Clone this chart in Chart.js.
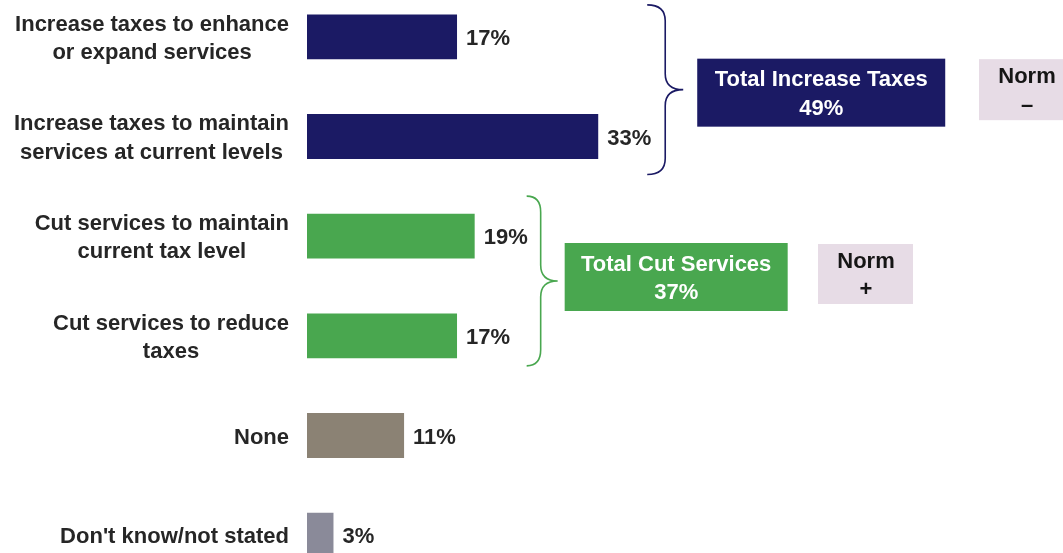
<!DOCTYPE html>
<html>
<head>
<meta charset="utf-8">
<script src="https://cdn.jsdelivr.net/npm/chart.js@4.4.1/dist/chart.umd.min.js"></script>
<style>
  html, body { margin: 0; padding: 0; background: #fff; overflow: hidden; }
  #wrap { position: absolute; left: 0; top: -13px; width: 1063px; height: 598px; }
</style>
</head>
<body>
<div id="wrap"><canvas id="chart" width="1063" height="598"></canvas></div>
<script>
// ================= DATA =================
const categories = [
  ['Increase taxes to enhance', 'or expand services'],
  ['Increase taxes to maintain', 'services at current levels'],
  ['Cut services to maintain', 'current tax level'],
  ['Cut services to reduce', 'taxes'],
  ['None'],
  ["Don't know/not stated"]
];
const values = [17, 33, 19, 17, 11, 3];
const barColors = ['#1b1a64', '#1b1a64', '#49a74f', '#49a74f', '#8b8274', '#8a8a99'];
const xRange = [0, 80];

const groupNames = ['Total Increase Taxes', 'Total Cut Services'];
const groupTotals = [49, 37];
const groupMembers = [[0, 1], [2, 3]];
const normSigns = ['\u2013', '+'];

// ================= STYLE =================
const FONT = 'bold 22px "Liberation Sans", Arial, sans-serif';
const CAP = 16;
const LINE = 28.5;
const TEXT = '#262626';

// brace + box geometry for each group (pixels, relative to the bars)
const groupLayout = [
  { dx: 49, spine: 18, tip: 36, padTop: 32, padBot: 38, color: '#1b1a64',
    box: { dx: 14, dy: 3, w: 248, h: 68 }, norm: { x: 979, w: 90, h: 61, dy: 0 } },
  { dx: 52, spine: 14, tip: 31, padTop: 40, padBot: 30, color: '#49a74f',
    box: { dx: 7, dy: -4, w: 223, h: 68 }, norm: { x: 818, w: 95, h: 60, dy: -7 } }
];

function textBlock(ctx, lines, cx, cy, color) {
  ctx.fillStyle = color;
  ctx.textAlign = 'center';
  ctx.textBaseline = 'alphabetic';
  const top = cy - (CAP + (lines.length - 1) * LINE) / 2;
  lines.forEach((l, i) => ctx.fillText(l, cx, top + CAP + i * LINE));
}

function brace(ctx, x0, x1, x2, yt, yb, color) {
  const ym = (yt + yb) / 2;
  const r = 16;
  ctx.beginPath();
  ctx.moveTo(x0, yt);
  ctx.quadraticCurveTo(x1, yt, x1, yt + r);
  ctx.lineTo(x1, ym - r);
  ctx.quadraticCurveTo(x1, ym, x2, ym);
  ctx.quadraticCurveTo(x1, ym, x1, ym + r);
  ctx.lineTo(x1, yb - r);
  ctx.quadraticCurveTo(x1, yb, x0, yb);
  ctx.strokeStyle = color;
  ctx.lineWidth = 1.6;
  ctx.stroke();
}

const overlay = {
  id: 'overlay',
  afterDatasetsDraw(chart) {
    const ctx = chart.ctx;
    const bars = chart.getDatasetMeta(0).data;
    ctx.save();
    ctx.font = FONT;

    // category labels: right edge fixed, lines centred inside the block
    bars.forEach((b, i) => {
      const lines = categories[i];
      const w = Math.max(...lines.map(l => ctx.measureText(l).width));
      textBlock(ctx, lines, 289 - w / 2, b.y, TEXT);
    });

    // value labels
    ctx.textAlign = 'left';
    bars.forEach((b, i) => {
      ctx.fillStyle = TEXT;
      ctx.fillText(values[i] + '%', b.x + 9, b.y + CAP / 2);
    });

    // braces, total boxes, norm boxes
    groupMembers.forEach((m, g) => {
      const L = groupLayout[g];
      const endX = Math.max(...m.map(i => bars[i].x));
      const yt = bars[m[0]].y - L.padTop;
      const yb = bars[m[m.length - 1]].y + L.padBot;
      const x0 = endX + L.dx;
      brace(ctx, x0, x0 + L.spine, x0 + L.tip, yt, yb, L.color);

      const ym = (yt + yb) / 2;
      const bx = x0 + L.tip + L.box.dx;
      const by = ym + L.box.dy - L.box.h / 2;
      ctx.fillStyle = L.color;
      ctx.fillRect(bx, by, L.box.w, L.box.h);
      textBlock(ctx, [groupNames[g], groupTotals[g] + '%'], bx + L.box.w / 2, by + L.box.h / 2, '#ffffff');

      const ny = ym + L.norm.dy - L.norm.h / 2;
      ctx.fillStyle = '#e7dce6';
      ctx.fillRect(L.norm.x, ny, L.norm.w, L.norm.h);
      const nc = L.norm.x + Math.min(L.norm.w, 1063 - L.norm.x + 13) / 2;
      textBlock(ctx, ['Norm', normSigns[g]], L.norm.x + 48, ny + L.norm.h / 2, '#151515');
    });

    ctx.restore();
  }
};

new Chart(document.getElementById('chart'), {
  type: 'bar',
  data: {
    labels: categories,
    datasets: [{
      data: values,
      backgroundColor: barColors,
      borderWidth: 0,
      barPercentage: 0.45,
      categoryPercentage: 1
    }]
  },
  options: {
    indexAxis: 'y',
    responsive: false,
    devicePixelRatio: 1,
    animation: false,
    layout: { padding: { left: 307, right: 50, top: 0, bottom: 0 } },
    plugins: { legend: { display: false }, tooltip: { enabled: false } },
    scales: {
      x: { display: false, min: xRange[0], max: xRange[1] },
      y: { display: false }
    }
  },
  plugins: [overlay]
});
</script>
</body>
</html>
